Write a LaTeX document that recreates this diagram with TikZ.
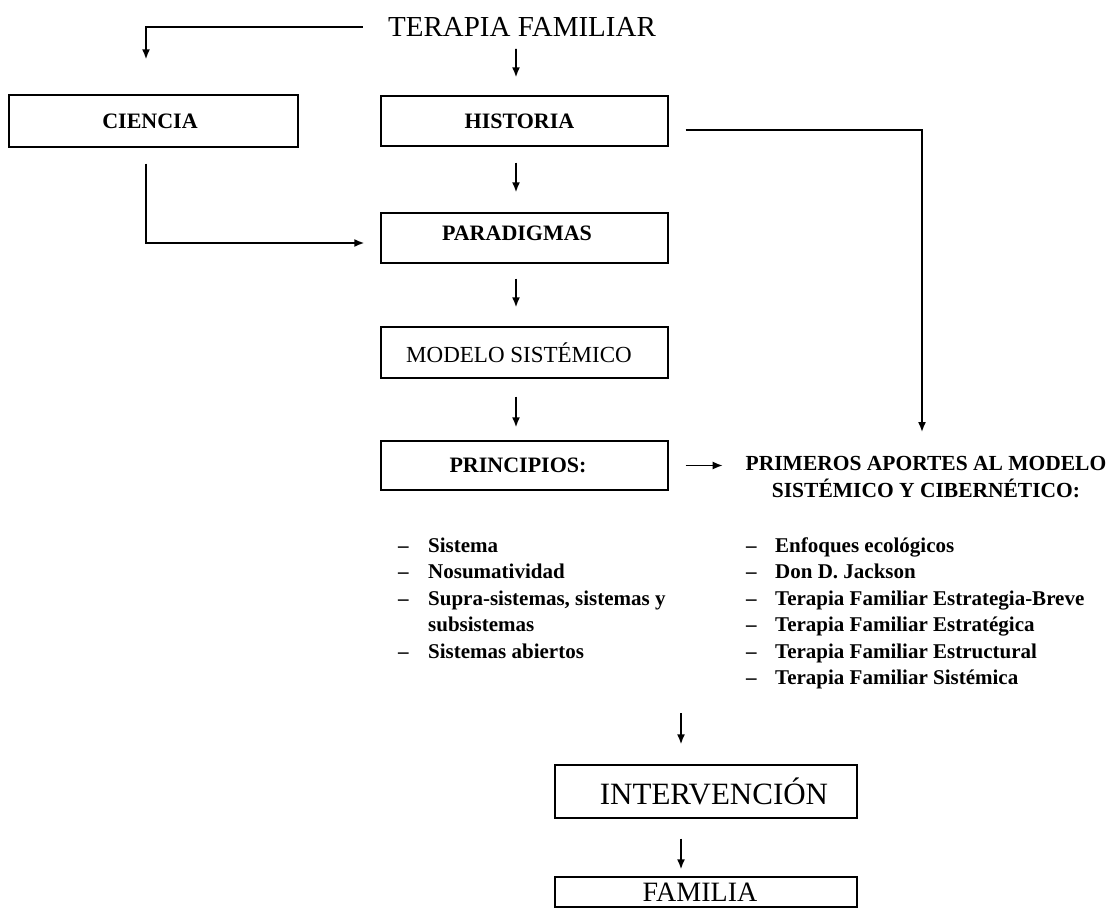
\documentclass[tikz,border=0pt]{standalone}
\usepackage{fontspec}
\setmainfont{Liberation Serif}
\usetikzlibrary{arrows.meta}
\begin{document}
\begin{tikzpicture}[x=1bp,y=-1bp,
  box/.style={draw,line width=1.4bp,minimum width=287bp,minimum height=50bp,inner sep=0},
  lbl/.style={font=\fontsize{22bp}{26bp}\selectfont\bfseries},
  big/.style={font=\fontsize{29bp}{34bp}\selectfont},
  conn/.style={line width=1.6bp},
  arr/.style={conn,-{Latex[length=10bp,width=8bp]}},
  item/.style={anchor=base west,inner sep=0,font=\fontsize{21bp}{25bp}\selectfont\bfseries},
]
\useasboundingbox (0,0) rectangle (1117,908);
\clip (0,0) rectangle (1117,908);

% title
\node[big,inner sep=0] (tf) at (522,27) {TERAPIA FAMILIAR};

% boxes
\node[box,lbl,minimum width=289bp,minimum height=52bp] (ciencia) at (153.5,121) {\hspace*{-7bp}CIENCIA};
\node[box,lbl] (historia) at (524.5,121) {\hspace*{-10bp}HISTORIA};
\node[box,lbl] (paradigmas) at (524.5,238) {\hspace*{-15bp}\raisebox{10bp}{PARADIGMAS}};
\node[box,font=\fontsize{23bp}{28bp}\selectfont,minimum height=51bp] (modelo) at (524.5,352.5) {\hspace*{-11bp}MODELO SISTÉMICO};
\node[box,lbl,minimum height=49bp] (principios) at (524.5,465.5) {\hspace*{-13bp}PRINCIPIOS:};
\node[box,font=\fontsize{31bp}{36bp}\selectfont,minimum width=302bp,minimum height=53bp] (interv) at (706,791.5) {\hspace*{16bp}INTERVENCIÓN};
\node[box,font=\fontsize{28bp}{32bp}\selectfont,minimum width=302bp,minimum height=30bp] (familia) at (706,892) {\raisebox{-3bp}{\hspace*{-12bp}FAMILIA}};

% primeros aportes
\node[align=center,inner sep=0,font=\fontsize{21.5bp}{27bp}\selectfont\bfseries] (primeros) at (926,477)
  {PRIMEROS APORTES AL MODELO\\SISTÉMICO Y CIBERNÉTICO:};

% left list
\foreach \t/\y [count=\i] in {Sistema/552, Nosumatividad/578.5, {Supra-sistemas, sistemas y}/605, Sistemas abiertos/658}{
  \node[item] (ld\i) at (398,\y) {–};
  \node[item] (l\i) at (428,\y) {\t};
}
\node[item] (l3b) at (428,631.5) {subsistemas};

% right list
\foreach \t/\y [count=\i] in {Enfoques ecológicos/552, Don D. Jackson/578.5, Terapia Familiar Estrategia-Breve/605, Terapia Familiar Estratégica/631.5, Terapia Familiar Estructural/658, Terapia Familiar Sistémica/684.5}{
  \node[item] (rd\i) at (746,\y) {–};
  \node[item] (r\i) at (775,\y) {\t};
}

\coordinate (lend) at (681,713);

% connectors
\draw[arr] ([xshift=-25bp]tf.west) -| ([xshift=-7.5bp,yshift=35bp]ciencia.north);
\draw[arr] ([xshift=-6bp,yshift=-12bp]tf.south) -- ([xshift=-8.5bp,yshift=18bp]historia.north);
\draw[arr] ([xshift=-8.5bp,yshift=-16bp]historia.south) -- ([xshift=-8.5bp,yshift=20bp]paradigmas.north);
\draw[arr] ([xshift=-8.5bp,yshift=-15bp]paradigmas.south) -- ([xshift=-8.5bp,yshift=19bp]modelo.north);
\draw[arr] ([xshift=-8.5bp,yshift=-18bp]modelo.south) -- ([xshift=-8.5bp,yshift=13bp]principios.north);
\draw[arr] ([xshift=-7.5bp,yshift=-16bp]ciencia.south) |- ([xshift=-16bp,yshift=-5bp]paradigmas.west);
\draw[arr] ([xshift=17bp,yshift=-9bp]historia.east) -| ([xshift=-4bp,yshift=24bp]primeros.north);
\draw[arr] ([xshift=17bp]principios.east) -- ([xshift=54bp]principios.east);
\draw[arr] (lend) -- ([xshift=-25bp,yshift=20bp]interv.north);
\draw[arr] ([xshift=-25bp,yshift=-20bp]interv.south) -- ([xshift=-25bp,yshift=7bp]familia.north);
\end{tikzpicture}
\end{document}
